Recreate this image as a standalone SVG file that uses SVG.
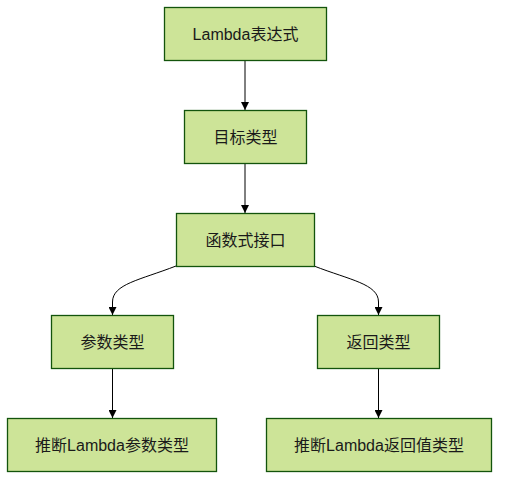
<svg xmlns="http://www.w3.org/2000/svg" width="507" height="486" viewBox="0 0 507 486">
<style>
.node rect{fill:#cde498;stroke:#13540c;stroke-width:1.3}
.node text{font-family:"Liberation Sans","Noto Sans CJK SC",sans-serif;font-size:16px;fill:#1a1a1a;text-anchor:middle;dominant-baseline:central}
.edges path{fill:none;stroke:#000;stroke-width:1}
</style>
<defs>
<marker id="arr" viewBox="0 0 10 10" refX="10" refY="5" markerWidth="8" markerHeight="8" markerUnits="userSpaceOnUse" orient="auto">
<path d="M0,0 L10,5 L0,10 z" fill="#000"/>
</marker>
</defs>
<rect width="507" height="486" fill="#fff"/>
<g class="edges">
<path d="M245,61 L245,110" marker-end="url(#arr)"/>
<path d="M245,164 L245,213" marker-end="url(#arr)"/>
<path d="M176,266 C140,280 112.5,284 112.5,302 L112.5,315" marker-end="url(#arr)"/>
<path d="M314,266 C350,280 378.5,284 378.5,302 L378.5,315" marker-end="url(#arr)"/>
<path d="M112.5,369 L112.5,418" marker-end="url(#arr)"/>
<path d="M378.5,369 L378.5,418" marker-end="url(#arr)"/>
</g>
<g id="n1" class="node"><rect x="164.5" y="7.5" width="162" height="53"/><text x="245.5" y="34">Lambda表达式</text></g>
<g id="n2" class="node"><rect x="184.5" y="110.5" width="122" height="53"/><text x="245.5" y="137">目标类型</text></g>
<g id="n3" class="node"><rect x="176.5" y="213.5" width="138" height="53"/><text x="245.5" y="240">函数式接口</text></g>
<g id="n4" class="node"><rect x="51.5" y="315.5" width="122" height="53"/><text x="112.5" y="342">参数类型</text></g>
<g id="n5" class="node"><rect x="317.5" y="315.5" width="122" height="53"/><text x="378.5" y="342">返回类型</text></g>
<g id="n6" class="node"><rect x="7.5" y="418.5" width="209" height="53"/><text x="112" y="445">推断Lambda参数类型</text></g>
<g id="n7" class="node"><rect x="266.5" y="418.5" width="225" height="53"/><text x="379" y="445">推断Lambda返回值类型</text></g>
</svg>
